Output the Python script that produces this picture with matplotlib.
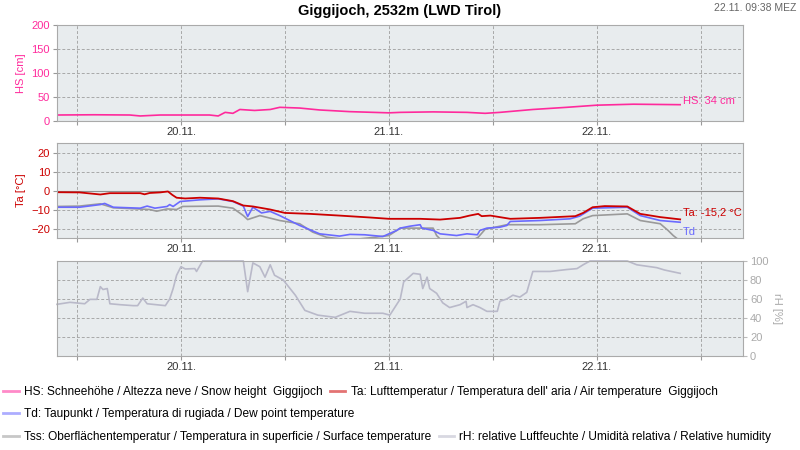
import matplotlib
matplotlib.use("Agg")
import matplotlib.pyplot as plt
from matplotlib.lines import Line2D
from matplotlib.ticker import FixedLocator, FixedFormatter

plt.rcParams['font.family'] = ['Liberation Sans', 'DejaVu Sans']

# hours relative to 20.11. 00:00
hs_t = [-14.3, -10, -5.9, -4.7, -2.4, 3.3, 4.3, 5.1, 6.0, 6.8, 8.5, 10.3, 11.4, 13.7, 16.0, 19.5,
        24.0, 25.3, 29.1, 33.0, 35.1, 36.8, 40.6, 44.5, 48.0, 52.2, 57.6]
hs_v = [12.5, 13, 12.5, 10.5, 12.5, 12.5, 10.5, 18, 16, 24, 22, 24, 28.5, 27, 23, 19.5,
        17, 18, 19, 18, 16, 18, 24, 28.5, 33, 35, 34]

ta_t = [-14.3, -11.7, -9.3, -8.2, -4.7, -4.2, -3.6, -2.4, -1.5, -1.0, -0.5, 0.5, 2.2, 4.3, 6.0, 7.2,
        8.3, 10.3, 12.0, 14.9, 18.3, 21.8, 24.0, 27.6, 29.9, 32.2, 33.3, 34.3, 34.7, 35.7, 38.0,
        41.4, 45.5, 46.4, 47.5, 48.9, 51.5, 53.0, 55.3, 57.6]
ta_v = [-0.9, -1.0, -2.1, -1.4, -1.4, -2.0, -1.3, -1.0, -0.5, -2.3, -3.8, -4.2, -3.8, -4.2, -5.6, -7.9,
        -8.4, -10.0, -11.8, -12.3, -13.2, -14.2, -14.9, -14.9, -15.3, -14.4, -13.2, -12.3, -13.5, -13.2, -14.9,
        -14.4, -13.5, -11.8, -8.8, -8.2, -8.4, -12.3, -14.0, -15.2]

td_t = [-14.3, -11.7, -9.3, -8.8, -7.8, -4.7, -3.9, -3.0, -1.6, -1.3, -0.9, -0.1, 2.2, 4.3, 6.0, 7.2,
        7.7, 8.3, 9.3, 10.3, 11.4, 13.7, 16.0, 18.3, 19.5, 21.2, 23.3, 24.0, 24.9, 25.3, 26.4, 27.6,
        27.8, 29.1, 29.9, 31.8, 33.0, 34.2, 34.5, 35.3, 36.8, 37.6, 38.0, 41.4, 44.9, 46.0, 47.5,
        51.5, 53.0, 55.3, 57.6]
td_v = [-8.8, -8.8, -7.4, -6.8, -8.8, -9.3, -8.2, -9.3, -8.4, -7.4, -8.4, -5.8, -4.9, -4.4, -5.8, -8.2,
        -13.7, -8.8, -11.8, -11.0, -13.2, -18.4, -22.8, -24.0, -23.1, -23.3, -24.2, -22.8, -21.0, -19.8, -18.8, -18.0,
        -19.8, -21.0, -22.8, -23.7, -22.8, -23.3, -21.0, -19.8, -19.3, -18.4, -16.3, -15.8, -14.9, -13.5, -9.3,
        -8.8, -13.2, -15.8, -16.7]

tss_t = [-14.3, -11.7, -9.3, -7.8, -3.6, -2.8, -1.6, -0.5, 0.2, 4.3, 6.0, 7.2, 7.7, 9.1, 11.4, 13.7,
         15.2, 16.8, 19.5, 22.4, 24.0, 25.3, 29.1, 29.5, 29.9, 33.3, 34.3, 35.1, 36.8, 37.6, 41.4,
         45.5, 46.4, 47.5, 51.5, 53.0, 55.3, 56.2, 56.8, 57.3, 57.6]
tss_v = [-8.4, -8.2, -7.0, -9.1, -10.0, -10.9, -9.7, -10.0, -8.4, -8.2, -9.3, -13.2, -15.3, -13.2, -15.8, -17.5,
         -21.9, -24.6, -26.0, -24.6, -23.7, -19.8, -19.8, -23.7, -25.5, -27.0, -24.6, -20.4, -18.8, -18.0, -18.0,
         -17.5, -14.9, -13.2, -12.3, -15.8, -17.5, -21.0, -23.7, -25.5, -27.0]

rh_t = [-14.3, -12.8, -11.1, -10.5, -9.7, -9.3, -9.0, -8.5, -8.2, -7.0, -5.5, -5.0, -4.4, -3.9, -1.8, -1.3,
        -0.9, -0.5, 0.0, 0.5, 1.6, 1.8, 2.5, 7.2, 7.7, 8.3, 9.1, 9.7, 10.3, 10.8, 11.8, 13.2, 14.3,
        15.8, 17.8, 19.5, 21.2, 23.3, 24.1, 25.3, 25.7, 26.8, 27.6, 27.9, 28.4, 28.7, 29.5, 30.2, 31.0,
        32.2, 32.9, 33.0, 33.7, 34.5, 35.3, 36.5, 36.8, 37.6, 38.3, 39.1, 39.9, 40.6, 42.6, 44.5, 45.7,
        46.4, 47.2, 51.5, 52.6, 54.9, 55.8, 57.6]
rh_v = [54.4, 56.5, 55, 59.6, 59.6, 73, 70, 71, 55, 54, 53, 53, 61, 55, 53, 60,
        71, 85, 94, 91.6, 92, 89, 100, 100, 67.7, 98, 94, 83, 96, 85, 80, 64, 48,
        43, 40.7, 47, 45, 45, 43, 60, 78, 87, 86, 71, 83, 71, 66, 56, 51,
        54, 57.6, 51, 54, 51, 47, 47, 57.6, 60, 64, 62, 67, 89, 89, 91, 92,
        96, 100, 100, 96, 93, 90.5, 87]

tick_hours = [-12, 0, 12, 24, 36, 48, 60]
tick_labels = ['', '20.11.', '', '21.11.', '', '22.11.', '']

hs_col = '#ff2a9c'
ta_col = '#cc0000'
td_col = '#6a6aff'
tss_col = '#9a9a9a'
rh_col = '#b9b9c9'
bg = '#e8ecee'

fig = plt.figure(figsize=(8, 4.5), dpi=100)
ax1 = fig.add_axes([0.07125, 0.7311, 0.8575, 0.2133])
ax2 = fig.add_axes([0.07125, 0.4711, 0.8575, 0.2111])
ax3 = fig.add_axes([0.07125, 0.2089, 0.8575, 0.2111])

for ax in (ax1, ax2, ax3):
    ax.set_facecolor(bg)
    ax.set_xlim(-14.3, 64.85)
    ax.xaxis.set_major_locator(FixedLocator(tick_hours))
    ax.xaxis.set_major_formatter(FixedFormatter(tick_labels))
    ax.grid(True, color='#a8a8a8', linestyle=(0, (3, 2)), linewidth=0.7)
    ax.tick_params(axis='x', colors='#999999', labelcolor='#333333', labelsize=8, length=3, pad=1.5)
    for s in ax.spines.values():
        s.set_color('#aaaaaa')
    ax.set_axisbelow(True)

# snow height
hs_line, = ax1.plot(hs_t, hs_v, color=hs_col, lw=1.2)
ax1.set_ylim(0, 200)
ax1.set_yticks([0, 50, 100, 150, 200])
ax1.tick_params(axis='y', colors='#999999', labelcolor=hs_col, labelsize=8, length=3, pad=2)
ax1.set_ylabel('HS [cm]', color=hs_col, fontsize=8, labelpad=4)
ax1.annotate('HS: %d cm' % hs_v[-1], (hs_t[-1], hs_v[-1]), xytext=(2, 3), textcoords='offset points',
             color=hs_col, fontsize=8, va='center')

# temperatures
ax2.axhline(0, color='#909090', lw=0.8, zorder=1)
tss_line, = ax2.plot(tss_t, tss_v, color=tss_col, lw=1.2)
td_line, = ax2.plot(td_t, td_v, color=td_col, lw=1.2)
ta_line, = ax2.plot(ta_t, ta_v, color=ta_col, lw=1.3)
ax2.set_ylim(-25, 25)
ax2.set_yticks([-20, -10, 0, 10, 20])
ax2.tick_params(axis='y', colors='#999999', labelcolor=ta_col, labelsize=8, length=3, pad=2)
ax2.set_ylabel('Ta [°C]', color=ta_col, fontsize=8, labelpad=4)
ax2.annotate('Ta: ' + ('%.1f' % ta_v[-1]).replace('.', ',') + ' °C', (ta_t[-1], ta_v[-1]),
             xytext=(2, 5), textcoords='offset points', color=ta_col, fontsize=8, va='center')
ax2.annotate('Td', (td_t[-1], td_v[-1]), xytext=(2, -7), textcoords='offset points',
             color=td_col, fontsize=8, va='center')

# relative humidity
rh_line, = ax3.plot(rh_t, rh_v, color=rh_col, lw=1.2, clip_on=False)
ax3.set_ylim(0, 100)
ax3.set_yticks([0, 20, 40, 60, 80, 100])
ax3.yaxis.tick_right()
ax3.yaxis.set_label_position('right')
ax3.tick_params(axis='y', colors='#bbbbbb', labelcolor='#aaaaaa', labelsize=8, length=3, pad=2)
ax3.set_ylabel('rH [%]', color='#aaaaaa', fontsize=8, rotation=270, labelpad=10)

fig.text(0.5, 0.975, 'Giggijoch, 2532m (LWD Tirol)', ha='center', va='center',
         fontsize=10.5, fontweight='bold')
fig.text(0.996, 0.982, '22.11. 09:38 MEZ', ha='right', va='center', fontsize=7.5, color='#666666')

# legend swatches are drawn lighter than the series
def swatch(c):
    return Line2D([], [], color=c, lw=2, alpha=0.55)

leg_kw = dict(loc='center left', frameon=False, borderpad=0, borderaxespad=0, handlelength=1.3,
              handletextpad=0.45, columnspacing=0.6, fontsize=8.6)
fig.legend([swatch(hs_col), swatch(ta_col)],
           ['HS: Schneehöhe / Altezza neve / Snow height  Giggijoch',
            "Ta: Lufttemperatur / Temperatura dell' aria / Air temperature  Giggijoch"],
           ncol=2, bbox_to_anchor=(0.004, 0.129), **leg_kw)
fig.legend([swatch(td_col)], ['Td: Taupunkt / Temperatura di rugiada / Dew point temperature'],
           bbox_to_anchor=(0.004, 0.080), **leg_kw)
fig.legend([swatch(tss_col), swatch(rh_col)],
           ['Tss: Oberflächentemperatur / Temperatura in superficie / Surface temperature',
            'rH: relative Luftfeuchte / Umidità relativa / Relative humidity'],
           ncol=2, bbox_to_anchor=(0.004, 0.029), **leg_kw)

fig.savefig('out.png', dpi=100)
